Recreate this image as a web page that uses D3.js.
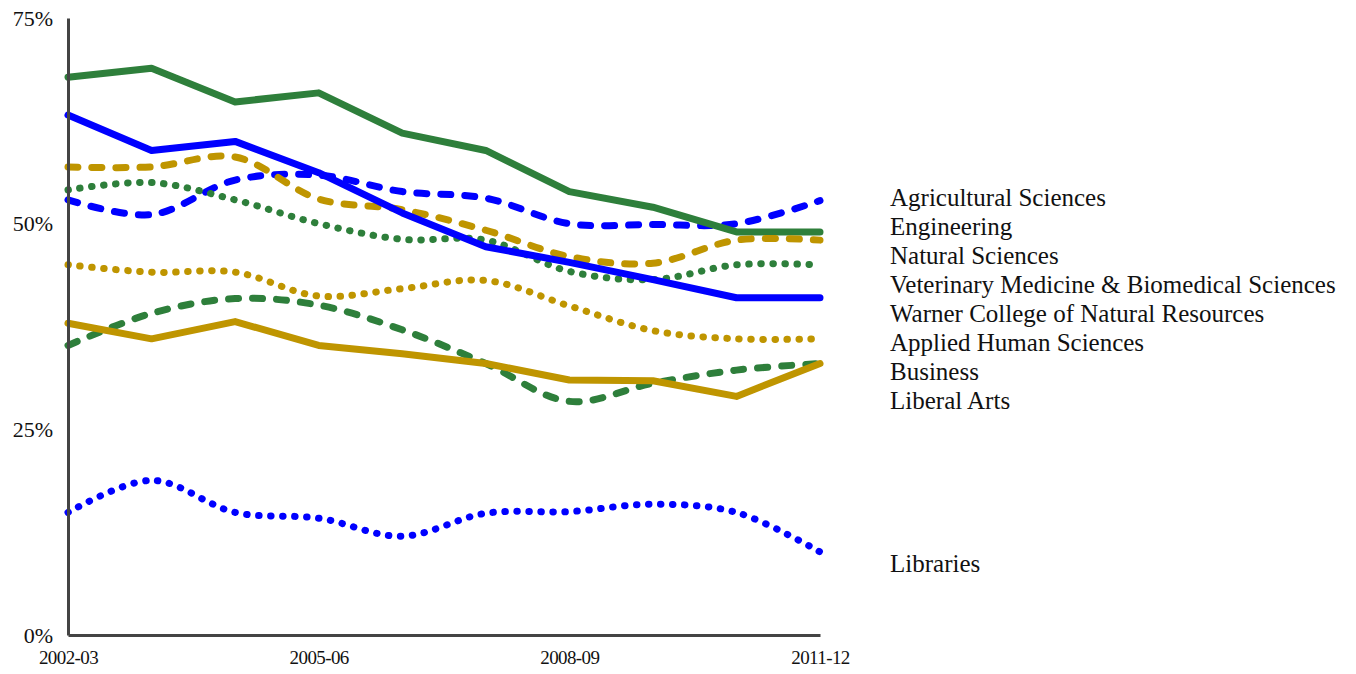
<!DOCTYPE html>
<html>
<head>
<meta charset="utf-8">
<script src="https://cdn.jsdelivr.net/npm/d3@7/dist/d3.min.js"></script>
<style>
  html, body { margin: 0; padding: 0; background: #fff; }
  svg { display: block; }
  text { font-family: "Liberation Serif", "DejaVu Serif", serif; fill: #111; }
</style>
</head>
<body>
<svg id="chart" width="1356" height="674"></svg>
<script>
// ---------- data ----------
const years = ["2002-03","2003-04","2004-05","2005-06","2006-07","2007-08","2008-09","2009-10","2010-11","2011-12"];
const xTickLabels = ["2002-03","2005-06","2008-09","2011-12"];
const yTickValues = [0, 25, 50, 75];

const agriculturalSciences = [52.9, 51.1, 55.3, 55.9, 53.9, 53.1, 50.0, 49.9, 50.0, 52.8];
const engineering          = [67.8, 68.9, 64.8, 65.9, 61.0, 58.9, 53.9, 52.0, 49.0, 49.0];
const naturalSciences      = [56.9, 56.9, 58.1, 53.0, 51.7, 49.2, 46.0, 45.2, 48.0, 48.0];
const vetMedicine          = [54.1, 55.0, 52.9, 50.0, 48.1, 48.0, 44.2, 43.2, 45.0, 45.0];
const warnerCollege        = [63.2, 58.9, 60.0, 56.2, 51.3, 47.2, 45.3, 43.2, 41.0, 41.0];
const appliedHuman         = [45.0, 44.1, 44.1, 41.2, 42.1, 43.1, 40.0, 37.0, 36.0, 36.0];
const business             = [35.2, 39.1, 40.9, 40.1, 37.1, 33.0, 28.4, 30.6, 32.2, 33.0];
const liberalArts          = [37.9, 36.0, 38.1, 35.2, 34.2, 33.0, 31.0, 30.9, 29.0, 33.0];
const libraries            = [14.9, 18.8, 14.9, 14.2, 12.0, 14.8, 15.0, 15.9, 14.9, 10.1];

const seriesNames = [
  "Agricultural Sciences", "Engineering", "Natural Sciences",
  "Veterinary Medicine & Biomedical Sciences", "Warner College of Natural Resources",
  "Applied Human Sciences", "Business", "Liberal Arts", "Libraries"
];
const seriesValues = [
  agriculturalSciences, engineering, naturalSciences, vetMedicine, warnerCollege,
  appliedHuman, business, liberalArts, libraries
];

// ---------- styles ----------
const GREEN = "#2e7f3b", BLUE = "#0000ff", GOLD = "#bf9500";
const styles = [
  { color: BLUE,  type: "dashed" },
  { color: GREEN, type: "solid" },
  { color: GOLD,  type: "dashed" },
  { color: GREEN, type: "dotted" },
  { color: BLUE,  type: "solid" },
  { color: GOLD,  type: "dotted" },
  { color: GREEN, type: "dashed" },
  { color: GOLD,  type: "solid" },
  { color: BLUE,  type: "dotted" }
];
const strokeStyle = {
  solid:  { width: 7, dash: null,    curve: d3.curveLinear },
  dashed: { width: 7, dash: "10,14", curve: d3.curveCatmullRom.alpha(0.5) },
  dotted: { width: 7, dash: "0.5,11.5", curve: d3.curveCatmullRom.alpha(0.5) }
};

// ---------- layout ----------
const plot = { left: 68, right: 820, top: 18, bottom: 635 };
const svg = d3.select("#chart");

const x = d3.scalePoint().domain(years).range([plot.left, plot.right]);
const y = d3.scaleLinear().domain([0, 75]).range([plot.bottom, plot.top]);

// lines
const series = seriesNames.map((name, i) => ({ name, values: seriesValues[i], style: styles[i] }));

const linesG = svg.append("g");
series.forEach(s => {
  const st = strokeStyle[s.style.type];
  const line = d3.line()
    .x((d, i) => x(years[i]))
    .y(d => y(d))
    .curve(st.curve);
  linesG.append("path")
    .datum(s.values)
    .attr("d", line)
    .attr("fill", "none")
    .attr("stroke", s.style.color)
    .attr("stroke-width", st.width)
    .attr("stroke-linecap", "round")
    .attr("stroke-linejoin", "round")
    .attr("stroke-dasharray", st.dash);
});

// axes
const yAxis = d3.axisLeft(y).tickValues(yTickValues).tickSize(0).tickPadding(15).tickFormat(d => d + "%");
const yG = svg.append("g").attr("transform", `translate(${plot.left},0)`).call(yAxis);
yG.select(".domain").attr("stroke", "#444").attr("stroke-width", 3);
yG.selectAll("text").style("font-size", "22px").attr("fill", "#111").attr("dy", "0.32em");

const xAxis = d3.axisBottom(x).tickValues(xTickLabels).tickSize(0).tickPadding(16);
const xG = svg.append("g").attr("transform", `translate(0,${plot.bottom})`).call(xAxis);
xG.select(".domain").attr("stroke", "#444").attr("stroke-width", 3);
xG.selectAll("text").style("font-size", "19px").style("letter-spacing", "-0.6px").attr("fill", "#111");

// right-side labels: anchored at last value, de-overlapped
const labels = series.map((s, i) => ({ name: s.name, order: i, y: y(s.values[s.values.length - 1]) + 12 }));
labels.sort((a, b) => a.y - b.y || a.order - b.order);
const gap = 29;
for (let k = 0; k < 500; k++) {
  for (let i = 1; i < labels.length; i++) {
    const diff = labels[i].y - labels[i - 1].y;
    if (diff < gap) {
      const d = (gap - diff) / 2;
      labels[i - 1].y -= d;
      labels[i].y += d;
    }
  }
}
svg.append("g").selectAll("text")
  .data(labels)
  .join("text")
  .attr("x", 890)
  .attr("y", d => d.y)
  .attr("dy", "0.32em")
  .style("font-size", "25px")
  .text(d => d.name);
</script>
</body>
</html>
